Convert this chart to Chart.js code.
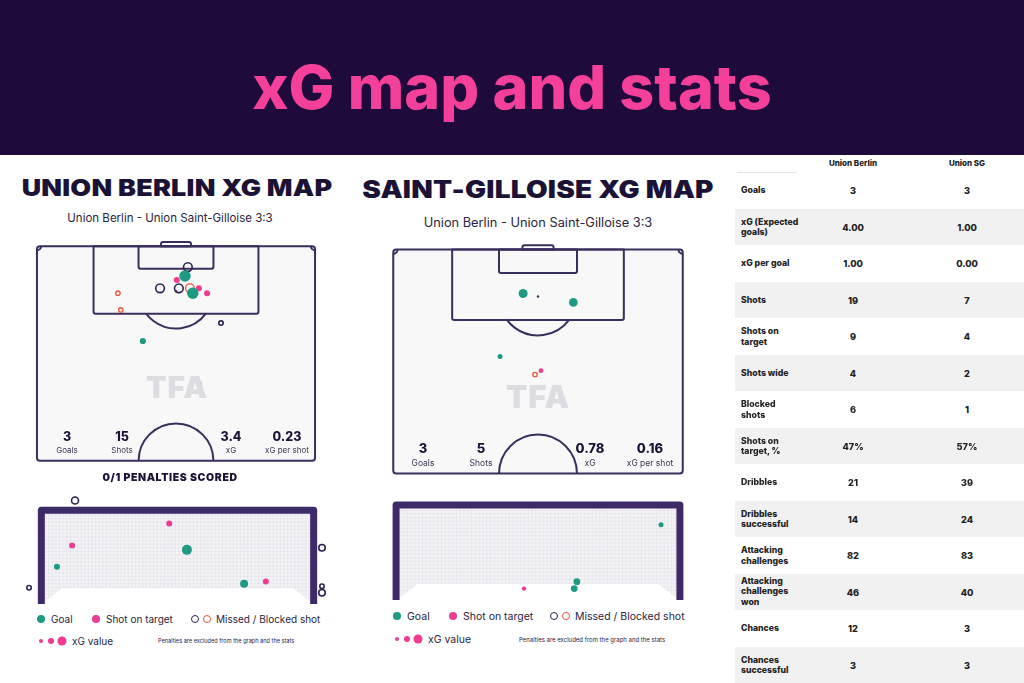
<!DOCTYPE html>
<html><head><meta charset="utf-8">
<script src="https://cdn.jsdelivr.net/npm/chart.js@4.4.0/dist/chart.umd.min.js"></script>
<style>
html,body{margin:0;padding:0}
body{width:1024px;height:683px;overflow:hidden;background:#fff;font-family:Inter,"Open Sans",sans-serif;position:relative;color:#241c3d}
.abs{position:absolute}
.c{position:absolute;transform:translate(-50%,-50%);white-space:nowrap}
.l{position:absolute;transform:translate(0,-50%);white-space:nowrap}
#hdr{left:0;top:0;width:1024px;height:155px;background:#1e0b3c}
#title{left:512px;top:87px;color:#f4409a;font-size:61px;font-weight:800;letter-spacing:0px}
.h2{font-weight:900;color:#1b1235;letter-spacing:0.2px}
.sub{color:#2b2440}
.num{font-weight:800;color:#1b1235}
.lab{color:#3a3450}
.tfa{font-weight:900;color:#dcdce1;letter-spacing:1px}
.dot{position:absolute;border-radius:50%;transform:translate(-50%,-50%)}
canvas{position:absolute}
.tr{position:absolute;left:735px;width:289px;height:36.5px}
.tr.g{background:#f1f1f2}
.tl{position:absolute;left:6px;top:50%;transform:translateY(-50%);font-size:8.7px;font-weight:800;line-height:10.5px;color:#222;width:55px}
.tv{position:absolute;top:50%;transform:translate(-50%,-50%);font-size:9.2px;font-weight:800;color:#222}
</style></head><body>
<div id="hdr" class="abs"></div>
<div id="title" class="c">xG map and stats</div>

<div class="c h2" style="left:177px;top:188px;font-size:23px;transform:translate(-50%,-50%) scaleX(1.17)">UNION BERLIN XG MAP</div>
<div class="c h2" style="left:538px;top:189px;font-size:24px;transform:translate(-50%,-50%) scaleX(1.165)">SAINT-GILLOISE XG MAP</div>
<div class="c sub" style="left:170px;top:218px;font-size:11.5px">Union Berlin - Union Saint-Gilloise 3:3</div>
<div class="c sub" style="left:538px;top:222px;font-size:12.8px">Union Berlin - Union Saint-Gilloise 3:3</div>

<canvas id="pitchL"></canvas>
<canvas id="pitchR"></canvas>
<canvas id="goalL"></canvas>
<canvas id="goalR"></canvas>

<div class="c tfa" style="left:177px;top:387px;font-size:30px">TFA</div>
<div class="c tfa" style="left:538px;top:396px;font-size:31px">TFA</div>

<div id="statsL"></div>
<div id="statsR"></div>

<div class="c" style="left:170px;top:477px;font-size:10.5px;font-weight:900;letter-spacing:0.6px;color:#1b1235">0/1 PENALTIES SCORED</div>

<div id="legL"></div>
<div id="legR"></div>

<div id="table"></div>

<script>
// ---------------- DATA ----------------
// Union Berlin shot map (x: metres across pitch, y: metres from goal line)
const ubShotX   = [36.9, 36.2, 34.2, 30.1, 34.7, 37.4, 39.6, 38.1, 41.6, 19.8, 20.5, 45.0, 25.9, 39.6];
const ubShotY   = [ 5.1,  7.3,  8.3, 10.3, 10.3, 10.3, 10.3, 11.5, 11.5, 11.5, 15.6, 18.8, 23.2, 33.7];
const ubShotXG  = [0.32, 0.72, 0.09, 0.32, 0.32, 0.32, 0.09, 0.72, 0.09, 0.02, 0.02, 0.02, 0.10, 0.02];
const ubShotType= ['missed','goal','target','missed','missed','blocked','target','goal','target','blocked','blocked','missed','goal','blocked'];

// Union Saint-Gilloise shot map
const usgShotX   = [30.5, 42.3, 25.1, 34.7, 33.3];
const usgShotY   = [10.3, 12.4, 25.1, 28.4, 29.3];
const usgShotXG  = [0.36, 0.33, 0.04, 0.03, 0.02];
const usgShotType= ['goal','goal','goal','target','blocked'];

// Goal-mouth maps (x: metres from left post, y: metres above ground)
const ubGoalX   = [0.83, 3.43, 0.75, 3.92, 0.33, -0.44, 5.50, 6.10, 7.65, 7.65, 7.65];
const ubGoalY   = [2.81, 2.17, 1.56, 1.44, 0.97,  0.39, 0.50, 0.56, 1.50, 0.43, 0.25];
const ubGoalXG  = [0.16, 0.09, 0.09, 0.49, 0.09, 0.02, 0.25, 0.09, 0.12, 0.02, 0.12];
const ubGoalType= ['missed','target','target','goal','goal','missed','goal','target','missed','missed','missed'];

const usgGoalX   = [6.92, 3.29, 4.69, 4.62];
const usgGoalY   = [2.00, 0.25, 0.44, 0.25];
const usgGoalXG  = [0.04, 0.02, 0.14, 0.14];
const usgGoalType= ['goal','target','goal','goal'];

// Pitch summary numbers
const ubSummary  = ['3','15','3.4','0.23'];
const usgSummary = ['3','5','0.78','0.16'];
const summaryLabels = ['Goals','Shots','xG','xG per shot'];

// Stats table
const teamNames = ['Union Berlin','Union SG'];
const statLabels = ['Goals','xG\u00a0(Expected goals)','xG per goal','Shots','Shots on target','Shots wide','Blocked shots','Shots on target, %','Dribbles','Dribbles successful','Attacking challenges','Attacking challenges won','Chances','Chances successful'];
const ubStats  = ['3','4.00','1.00','19','9','4','6','47%','21','14','82','46','12','3'];
const usgStats = ['3','1.00','0.00','7','4','2','1','57%','39','24','83','40','3','3'];

// ---------------- STYLE ----------------
const STY = {
  goal:   {fill:'#1d9b82', stroke:'#1d9b82', bw:0},
  target: {fill:'#ee3d8f', stroke:'#ee3d8f', bw:0},
  missed: {fill:'rgba(0,0,0,0)', stroke:'#2b2350', bw:1.6},
  blocked:{fill:'rgba(0,0,0,0)', stroke:'#e8553f', bw:1.3}
};
const rad = xg => 1.5 + 5*Math.sqrt(xg);
const LINE = '#3a2e5c';

const pitchPlugin = {id:'pitch', beforeDatasetsDraw(chart){
  const c = chart.ctx, X = v=>chart.scales.x.getPixelForValue(v), Y = v=>chart.scales.y.getPixelForValue(v);
  c.save();
  c.fillStyle = '#f8f8f9';
  c.fillRect(X(0), Y(0), X(68)-X(0), Y(52.5)-Y(0));
  c.strokeStyle = LINE; c.lineWidth = 2; c.lineJoin='round';
  c.beginPath(); c.roundRect(X(0), Y(0), X(68)-X(0), Y(52.5)-Y(0), 3); c.stroke();
  c.beginPath(); c.roundRect(X(13.84), Y(0), X(54.16)-X(13.84), Y(16.5)-Y(0), [0,0,2,2]); c.stroke();
  c.beginPath(); c.roundRect(X(24.84), Y(0), X(43.16)-X(24.84), Y(5.5)-Y(0), [0,0,2,2]); c.stroke();
  c.beginPath(); c.roundRect(X(30.34), Y(-1), X(37.66)-X(30.34), Y(0)-Y(-1), [2,2,0,0]); c.stroke();
  c.fillStyle = LINE; c.beginPath(); c.arc(X(34), Y(11), 1.2, 0, 2*Math.PI); c.fill();
  const r = X(9.15)-X(0);
  const a = Math.asin(5.5/9.15);
  c.beginPath(); c.arc(X(34), Y(11), r, a, Math.PI - a); c.stroke();
  c.beginPath(); c.arc(X(34), Y(52.5), r, Math.PI, 2*Math.PI); c.stroke();
  const cr = X(1)-X(0);
  c.beginPath(); c.arc(X(0), Y(0), cr, 0, Math.PI/2); c.stroke();
  c.beginPath(); c.arc(X(68), Y(0), cr, Math.PI/2, Math.PI); c.stroke();
  c.restore();
}};

const goalPlugin = {id:'goalframe', beforeDatasetsDraw(chart){
  const c = chart.ctx, X = v=>chart.scales.x.getPixelForValue(v), Y = v=>chart.scales.y.getPixelForValue(v);
  c.save();
  c.beginPath();
  c.moveTo(X(0), Y(2.44)); c.lineTo(X(7.32), Y(2.44)); c.lineTo(X(7.32), Y(0));
  c.lineTo(X(6.85), Y(0.38)); c.lineTo(X(0.47), Y(0.38)); c.lineTo(X(0), Y(0)); c.closePath();
  c.fillStyle = '#f4f4f7'; c.fill();
  c.clip();
  c.strokeStyle = '#e2e2e9'; c.lineWidth = 0.7;
  for (let v=0; v<=7.32; v+=0.1){ c.beginPath(); c.moveTo(X(v), Y(0)); c.lineTo(X(v), Y(2.44)); c.stroke(); }
  for (let v=0; v<=2.44; v+=0.1){ c.beginPath(); c.moveTo(X(0), Y(v)); c.lineTo(X(7.32), Y(v)); c.stroke(); }
  c.restore();
  c.save();
  c.strokeStyle = '#3d2a66'; c.lineWidth = 7; c.lineJoin = 'round'; c.lineCap='butt';
  c.beginPath(); c.moveTo(X(-0.1), Y(-0.06)); c.lineTo(X(-0.1), Y(2.54)); c.lineTo(X(7.42), Y(2.54)); c.lineTo(X(7.42), Y(-0.06)); c.stroke();
  c.restore();
}};

function place(id, left, top, w, h){
  const el = document.getElementById(id);
  el.width = Math.round(w); el.height = Math.round(h);
  el.style.left = left+'px'; el.style.top = top+'px';
  el.style.width = Math.round(w)+'px'; el.style.height = Math.round(h)+'px';
  return el;
}

function makeChart(id, xs, ys, xgs, types, xr, yr, rev, plugin){
  const cats = ['goal','target','missed','blocked'];
  const datasets = cats.map(cat => ({
    label: cat,
    data: xs.map((x,i)=>({x:x, y:ys[i], xg:xgs[i], t:types[i]})).filter(p=>p.t===cat),
    pointRadius: ctx => ctx.raw ? rad(ctx.raw.xg) : 3,
    pointBackgroundColor: STY[cat].fill,
    pointBorderColor: STY[cat].stroke,
    pointBorderWidth: STY[cat].bw,
    showLine: false
  }));
  return new Chart(document.getElementById(id), {
    type:'scatter',
    data:{datasets},
    options:{
      responsive:false, animation:false, devicePixelRatio:1,
      layout:{padding:0, autoPadding:false},
      plugins:{legend:{display:false}, tooltip:{enabled:false}},
      scales:{
        x:{type:'linear', min:xr[0], max:xr[1], display:false},
        y:{type:'linear', min:yr[0], max:yr[1], reverse:rev, display:false}
      }
    },
    plugins:[plugin]
  });
}

// pitch L: 4.09 px/m, origin (37,246)
place('pitchL', 37-1.7*4.09, 246-2*4.09, 71.4*4.09, 56.5*4.09);
makeChart('pitchL', ubShotX, ubShotY, ubShotXG, ubShotType, [-1.7,69.7], [-2,54.5], true, pitchPlugin);
// pitch R: 4.26 px/m, origin (393,250)
place('pitchR', 393-1.7*4.26, 250-2*4.26, 71.4*4.26, 56.5*4.26);
makeChart('pitchR', usgShotX, usgShotY, usgShotXG, usgShotType, [-1.7,69.7], [-2,54.5], true, pitchPlugin);
// goal L
place('goalL', 45-0.8*36.2, 602-3.1*36, 8.92*36.2, 3.3*36);
makeChart('goalL', ubGoalX, ubGoalY, ubGoalXG, ubGoalType, [-0.8,8.12], [-0.2,3.1], false, goalPlugin);
// goal R
place('goalR', 400-0.5*37.7, 598-2.9*36.5, 8.32*37.7, 3.1*36.5);
makeChart('goalR', usgGoalX, usgGoalY, usgGoalXG, usgGoalType, [-0.5,7.82], [-0.2,2.9], false, goalPlugin);

// ---------------- TEXT OVERLAYS ----------------
function summary(host, vals, xs, yNum, yLab, fNum, fLab){
  const h = document.getElementById(host);
  vals.forEach((v,i)=>{
    h.insertAdjacentHTML('beforeend', `<div class="c num" style="left:${xs[i]}px;top:${yNum}px;font-size:${fNum}px">${v}</div>`);
    h.insertAdjacentHTML('beforeend', `<div class="c lab" style="left:${xs[i]}px;top:${yLab}px;font-size:${fLab}px">${summaryLabels[i]}</div>`);
  });
}
summary('statsL', ubSummary, [67,122,231,287], 436, 450, 12.5, 8);
summary('statsR', usgSummary, [423,481,590,650], 448, 463, 13, 8.5);

function legend(host, x0, y1, y2, offs, fs, noteX, noteFs){
  const h = document.getElementById(host);
  const add = s => h.insertAdjacentHTML('beforeend', s);
  add(`<div class="dot" style="left:${x0}px;top:${y1}px;width:8px;height:8px;background:${STY.goal.fill}"></div>`);
  add(`<div class="l" style="left:${x0+offs[0]}px;top:${y1}px;font-size:${fs}px;color:#2b2440">Goal</div>`);
  add(`<div class="dot" style="left:${x0+offs[1]}px;top:${y1}px;width:8px;height:8px;background:${STY.target.fill}"></div>`);
  add(`<div class="l" style="left:${x0+offs[1]+10}px;top:${y1}px;font-size:${fs}px;color:#2b2440">Shot on target</div>`);
  add(`<div class="dot" style="left:${x0+offs[2]}px;top:${y1}px;width:6px;height:6px;border:1.6px solid ${STY.missed.stroke}"></div>`);
  add(`<div class="dot" style="left:${x0+offs[2]+12}px;top:${y1}px;width:6px;height:6px;border:1.6px solid ${STY.blocked.stroke}"></div>`);
  add(`<div class="l" style="left:${x0+offs[2]+21}px;top:${y1}px;font-size:${fs}px;color:#2b2440">Missed / Blocked shot</div>`);
  add(`<div class="dot" style="left:${x0}px;top:${y2}px;width:4px;height:4px;background:${STY.target.fill}"></div>`);
  add(`<div class="dot" style="left:${x0+10}px;top:${y2}px;width:6px;height:6px;background:${STY.target.fill}"></div>`);
  add(`<div class="dot" style="left:${x0+21}px;top:${y2}px;width:9px;height:9px;background:${STY.target.fill}"></div>`);
  add(`<div class="l" style="left:${x0+31}px;top:${y2}px;font-size:${fs}px;color:#2b2440">xG value</div>`);
  add(`<div class="l" style="left:${noteX}px;top:${y2}px;font-size:${noteFs}px;color:#2b2440">Penalties are excluded from the graph and the stats</div>`);
}
legend('legL', 41, 619, 641, [10,55,154], 10, 158, 5.6);
legend('legR', 397, 616, 639, [10,56,157], 10.5, 519, 6);

// table
const tb = document.getElementById('table');
tb.insertAdjacentHTML('beforeend', `<div class="c" style="left:853px;top:163px;font-size:8px;font-weight:800;color:#222">${teamNames[0]}</div>`);
tb.insertAdjacentHTML('beforeend', `<div class="c" style="left:967px;top:163px;font-size:8px;font-weight:800;color:#222">${teamNames[1]}</div>`);
tb.insertAdjacentHTML('beforeend', `<div class="abs" style="left:737px;top:172px;width:60px;height:1px;background:#e4e4e8"></div>`);
statLabels.forEach((lab,i)=>{
  const top = 172 + i*36.5;
  tb.insertAdjacentHTML('beforeend',
    `<div class="tr${i%2? ' g':''}" style="top:${top}px">
       <div class="tl">${lab}</div>
       <div class="tv" style="left:${853-735}px">${ubStats[i]}</div>
       <div class="tv" style="left:${967-735}px">${usgStats[i]}</div>
     </div>`);
});
</script>
</body></html>
